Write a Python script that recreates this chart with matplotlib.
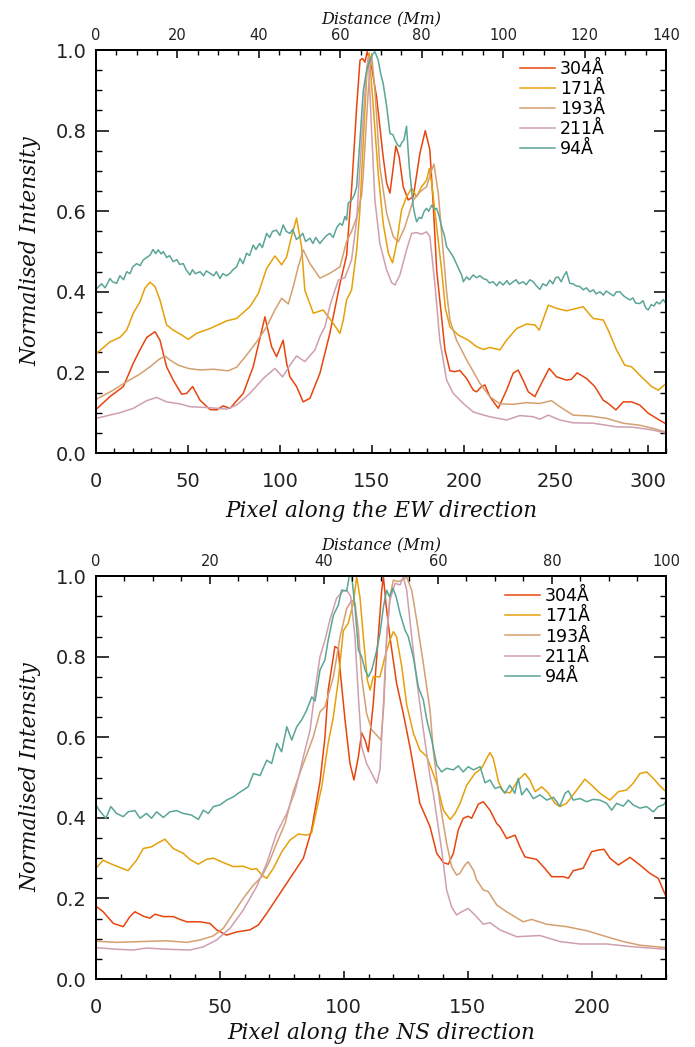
import matplotlib
matplotlib.use('Agg')
import matplotlib.pyplot as plt
from matplotlib.ticker import MultipleLocator

# ---------------- EW cut (top panel) ----------------
ew_x_304 = [0, 7.6, 14.9, 20.3, 23.9, 27.6, 32.1, 34.8, 38.4, 42, 46.6, 49.3, 52.6, 56.6, 62, 65.6,
            69.2, 72.9, 80.1, 85.5, 91.9, 95.5, 98.2, 101.8, 103.7, 105.5, 109.1, 112.7, 116.4, 121.8,
            127.2, 132.7, 136.3, 139, 141.8, 143.6, 145, 146.3, 147.5, 149.9, 152.6, 156.2, 158.1,
            159.9, 161.7, 163.1, 164.9, 167.1, 169.8, 172.6, 176.2, 179.1, 181.6, 183.5, 185.3, 187,
            189.8, 192.5, 195.2, 197.9, 201.6, 205.2, 207, 209.7, 211.5, 214.2, 218.8, 223.3, 226.9,
            229.6, 232.3, 235.1, 238.7, 242.3, 246.5, 250.5, 255.9, 258.6, 261.7, 266.8, 271.3, 275.9,
            278.6, 282.8, 286.8, 291.3, 295.8, 300.3, 304.9, 309.4]
ew_304 = [0.108, 0.14, 0.165, 0.223, 0.256, 0.287, 0.301, 0.28, 0.214, 0.181, 0.146, 0.148, 0.165,
          0.131, 0.108, 0.107, 0.117, 0.111, 0.148, 0.214, 0.338, 0.264, 0.239, 0.28, 0.223, 0.189,
          0.165, 0.127, 0.136, 0.198, 0.297, 0.42, 0.49, 0.653, 0.86, 0.975, 0.979, 0.97, 0.996,
          0.958, 0.884, 0.735, 0.67, 0.645, 0.71, 0.762, 0.735, 0.661, 0.628, 0.636, 0.744, 0.80,
          0.752, 0.611, 0.454, 0.38, 0.256, 0.204, 0.202, 0.205, 0.185, 0.156, 0.152, 0.165, 0.169,
          0.14, 0.111, 0.156, 0.198, 0.206, 0.181, 0.152, 0.14, 0.173, 0.21, 0.189, 0.181, 0.183,
          0.199, 0.185, 0.165, 0.131, 0.123, 0.107, 0.127, 0.127, 0.119, 0.099, 0.086, 0.074]

ew_x_171 = [0, 7.6, 13, 16.7, 20.3, 23.9, 26.6, 29.4, 32.1, 34.8, 38.4, 42, 46.6, 50.2, 54.7, 62,
            71.1, 76.5, 83.7, 88.3, 92.8, 97.3, 101, 103.7, 106.5, 109.1, 111.8, 113.6, 118.2, 123.6,
            129, 132.7, 134.5, 136.3, 139, 141.8, 143.5, 145.4, 147.5, 148.6, 150.8, 153.5, 156.2,
            159, 161.3, 163.5, 166.2, 168.9, 171.7, 174.4, 177.1, 179.8, 181.3, 182.6, 185.3, 188,
            190, 192.5, 197, 202.5, 207, 210.6, 214.2, 219.7, 223.3, 228.8, 234.2, 238.7, 241.1,
            246, 250.5, 255.9, 261.4, 265, 270.4, 275.9, 278.6, 283.1, 287.6, 291.3, 296.7, 302.2,
            305.8, 309.4]
ew_171 = [0.246, 0.276, 0.287, 0.305, 0.347, 0.375, 0.409, 0.424, 0.413, 0.38, 0.318, 0.305, 0.293,
          0.282, 0.297, 0.309, 0.328, 0.334, 0.363, 0.396, 0.458, 0.489, 0.467, 0.487, 0.54, 0.583,
          0.512, 0.404, 0.347, 0.355, 0.322, 0.297, 0.33, 0.38, 0.404, 0.504, 0.60, 0.777, 0.958,
          0.993, 0.86, 0.694, 0.57, 0.496, 0.472, 0.52, 0.603, 0.636, 0.657, 0.636, 0.661, 0.677,
          0.706, 0.669, 0.561, 0.454, 0.36, 0.313, 0.293, 0.28, 0.264, 0.257, 0.262, 0.256, 0.28,
          0.309, 0.32, 0.318, 0.305, 0.367, 0.359, 0.353, 0.359, 0.363, 0.334, 0.33, 0.305, 0.256,
          0.218, 0.214, 0.189, 0.165, 0.156, 0.17]

ew_x_193 = [0, 9.4, 16.7, 23.9, 29.4, 33.9, 37.5, 40.2, 44.7, 50.2, 56.6, 63.8, 71.9, 76.5, 81.9,
            87.4, 92.8, 97.3, 101, 104.6, 107.3, 110, 112.7, 116.4, 121.8, 127.2, 132.7, 136.3, 139,
            141.8, 144.5, 145.4, 148.1, 149.9, 151.7, 154.4, 158.1, 161.7, 164.4, 168, 172.6, 176.2,
            179.8, 182.6, 183.8, 186.2, 188.9, 190.7, 192.5, 196.1, 201.6, 208.8, 214.2, 219.7,
            226.9, 234.2, 241.4, 247.7, 252.3, 259.5, 268.6, 277.7, 286.8, 295.8, 303, 309.4]
ew_193 = [0.133, 0.156, 0.177, 0.196, 0.214, 0.231, 0.241, 0.231, 0.218, 0.21, 0.206, 0.208, 0.204,
          0.213, 0.243, 0.276, 0.313, 0.355, 0.384, 0.37, 0.413, 0.462, 0.504, 0.47, 0.434, 0.446,
          0.462, 0.525, 0.55, 0.585, 0.64, 0.694, 0.90, 0.99, 0.90, 0.71, 0.595, 0.537, 0.524, 0.561,
          0.628, 0.648, 0.661, 0.702, 0.717, 0.644, 0.496, 0.40, 0.33, 0.28, 0.231, 0.173, 0.14,
          0.122, 0.121, 0.125, 0.123, 0.13, 0.115, 0.094, 0.092, 0.086, 0.074, 0.069, 0.061, 0.053]

ew_x_211 = [0, 13, 20.3, 27.6, 33, 38.4, 45.7, 51.1, 60.2, 71.1, 76.5, 83.7, 91, 97.3, 101.5, 105.5,
            109.1, 113.6, 119.1, 121.8, 124.5, 127.5, 131.8, 135.4, 139, 141.8, 144.5, 146.8, 148.1,
            149.9, 151.7, 154.4, 158.1, 160.8, 162.6, 165.3, 168.9, 171.7, 174.4, 177.1, 179.8,
            181.6, 184.3, 187, 190.7, 194.3, 199.8, 205.2, 208.8, 214.2, 223.3, 230.6, 237.8, 241.4,
            246, 252.3, 259.5, 270.4, 283.1, 292.2, 303, 309.4]
ew_211 = [0.086, 0.1, 0.111, 0.13, 0.138, 0.127, 0.122, 0.115, 0.113, 0.109, 0.119, 0.148, 0.185,
          0.21, 0.189, 0.218, 0.241, 0.227, 0.256, 0.289, 0.313, 0.37, 0.429, 0.435, 0.479, 0.578,
          0.777, 0.926, 0.983, 0.80, 0.628, 0.52, 0.454, 0.423, 0.417, 0.442, 0.504, 0.545, 0.547,
          0.543, 0.549, 0.537, 0.421, 0.28, 0.181, 0.148, 0.123, 0.102, 0.097, 0.09, 0.082, 0.093,
          0.09, 0.084, 0.094, 0.082, 0.075, 0.074, 0.065, 0.064, 0.057, 0.05]

ew_x_94 = [0, 3, 5, 7.6, 9, 11.2, 13, 15, 16.7, 18.5, 20, 22.1, 24, 25.7, 27.5, 29.4, 31, 32.5, 33.9,
           35.5, 36.6, 38.5, 40, 42, 44, 45.5, 47.5, 49, 51.1, 52.5, 54, 56.6, 58.5, 60, 62, 64, 65.5,
           67.4, 69, 71, 72.9, 74.5, 76.5, 78.3, 80, 81.9, 83.5, 85.5, 87, 89, 90.5, 92.8, 94.5, 96,
           98.2, 100, 101.8, 103.5, 105.5, 107, 109, 110.9, 112.5, 114, 116.4, 118, 119.5, 121.8,
           123.5, 125.5, 127.2, 129, 131, 132.7, 134, 135.4, 136.3, 137.2, 139, 140.5, 141.8, 143.6,
           145.4, 147.2, 149, 150.5, 151.7, 153.5, 154.8, 156.2, 158.1, 159.9, 161.5, 162.6, 164,
           165.3, 166.5, 167.5, 168.9, 170.4, 172.6, 173.5, 174.4, 175.8, 177.1, 178.5, 179.8, 181,
           182.6, 184, 185.3, 186.5, 188, 189.5, 190.7, 192.5, 194.3, 196, 197.5, 199, 199.8, 201.6,
           203, 205.2, 207, 208.8, 210.6, 212.5, 214, 216, 218, 219.5, 221.5, 223.5, 225, 226.9,
           228.5, 230, 232.3, 234, 236, 237.8, 239.5, 241.4, 243, 245, 246.8, 248.5, 250, 251.4, 253,
           254.5, 255.9, 257.7, 259.5, 261, 263.2, 265, 266.8, 268.6, 270.5, 272, 274.1, 276, 277.5,
           279.5, 281.5, 283, 285, 287, 288.5, 290.4, 292, 293.5, 295.8, 297.5, 299, 300.3, 302,
           303.5, 304.9, 306.5, 308.5, 310]
ew_94 = [0.406, 0.42, 0.41, 0.433, 0.425, 0.421, 0.44, 0.43, 0.45, 0.445, 0.462, 0.47, 0.465, 0.479,
         0.485, 0.491, 0.505, 0.495, 0.504, 0.494, 0.5, 0.485, 0.49, 0.475, 0.48, 0.468, 0.47, 0.455,
         0.442, 0.455, 0.445, 0.45, 0.44, 0.452, 0.446, 0.44, 0.45, 0.433, 0.445, 0.44, 0.446, 0.455,
         0.462, 0.483, 0.47, 0.496, 0.49, 0.516, 0.505, 0.52, 0.51, 0.545, 0.535, 0.55, 0.553, 0.54,
         0.566, 0.55, 0.545, 0.555, 0.53, 0.537, 0.545, 0.525, 0.533, 0.52, 0.535, 0.52, 0.53, 0.54,
         0.545, 0.535, 0.56, 0.57, 0.565, 0.587, 0.578, 0.62, 0.628, 0.64, 0.661, 0.777, 0.90, 0.95,
         0.975, 0.99, 0.996, 0.975, 0.942, 0.917, 0.86, 0.793, 0.79, 0.777, 0.765, 0.76, 0.772,
         0.777, 0.811, 0.71, 0.611, 0.59, 0.574, 0.585, 0.582, 0.6, 0.607, 0.6, 0.615, 0.605, 0.607,
         0.59, 0.561, 0.54, 0.512, 0.5, 0.487, 0.47, 0.455, 0.44, 0.425, 0.437, 0.43, 0.442, 0.435,
         0.44, 0.433, 0.43, 0.422, 0.425, 0.415, 0.425, 0.417, 0.428, 0.418, 0.425, 0.43, 0.42,
         0.425, 0.418, 0.43, 0.425, 0.415, 0.406, 0.42, 0.415, 0.429, 0.42, 0.435, 0.437, 0.425,
         0.44, 0.45, 0.421, 0.42, 0.415, 0.413, 0.405, 0.41, 0.4, 0.405, 0.395, 0.4, 0.392, 0.402,
         0.396, 0.39, 0.4, 0.4, 0.39, 0.385, 0.38, 0.385, 0.372, 0.371, 0.378, 0.36, 0.355, 0.368,
         0.365, 0.375, 0.37, 0.381, 0.371]

# ---------------- NS cut (bottom panel) ----------------
ns_x_304 = [0, 2.9, 7, 11, 13.7, 15.7, 19.1, 21.8, 23.8, 27.2, 31.2, 33.9, 36.6, 42, 46, 48.7, 52.7,
            56.8, 62.1, 65.5, 68.9, 74.3, 79.6, 83.7, 87, 90.4, 92.4, 93.7, 95.8, 96.4, 97.8, 98.5,
            100.5, 102.5, 104.1, 105.9, 107.2, 108.6, 109.9, 111.9, 113.9, 115.3, 116, 117, 118.6,
            121.3, 124, 126.7, 130.7, 134.8, 137.5, 140.2, 142.2, 144.2, 146.2, 148.2, 150.2, 151.6,
            154.3, 156.3, 159, 161.7, 163, 165.7, 169.1, 171.1, 173.1, 177.8, 180.5, 183.9, 188.6,
            190.6, 192.6, 196.6, 200, 202.7, 205, 207.4, 210.8, 215.5, 219.5, 223.6, 226.9, 230]
ns_304 = [0.181, 0.167, 0.138, 0.13, 0.155, 0.167, 0.156, 0.151, 0.161, 0.155, 0.155, 0.148, 0.142,
          0.142, 0.138, 0.122, 0.109, 0.117, 0.122, 0.134, 0.163, 0.213, 0.262, 0.30, 0.37, 0.49,
          0.60, 0.717, 0.80, 0.825, 0.82, 0.767, 0.643, 0.535, 0.494, 0.552, 0.611, 0.593, 0.564,
          0.684, 0.849, 0.965, 0.998, 0.932, 0.849, 0.734, 0.659, 0.576, 0.436, 0.378, 0.312, 0.289,
          0.285, 0.312, 0.37, 0.399, 0.404, 0.399, 0.434, 0.44, 0.419, 0.386, 0.378, 0.349, 0.357,
          0.328, 0.303, 0.297, 0.279, 0.254, 0.254, 0.25, 0.269, 0.275, 0.316, 0.32, 0.322, 0.30,
          0.283, 0.302, 0.283, 0.262, 0.25, 0.205]

ns_x_171 = [0, 2.9, 5.6, 9.6, 12.9, 16.4, 19.1, 22.4, 25.1, 27.8, 31.2, 35.2, 37.9, 41.3, 44.6,
            47.4, 51.4, 55.4, 59.4, 62.8, 64.8, 66.9, 68.9, 71.6, 75, 78.3, 81.7, 85, 87, 89, 91.1,
            93.7, 95.8, 97.8, 99.8, 101.8, 103.8, 105.2, 106.5, 107.9, 109.5, 110.6, 111.9, 114.6,
            116.6, 118.6, 120, 121.3, 123.4, 125.4, 128.1, 130.7, 133.5, 137.5, 140.2, 142.9, 144.9,
            146.9, 149.6, 152.9, 155.6, 157.7, 159, 160.3, 162.4, 164.4, 167.1, 170.4, 173.1, 175.1,
            177.2, 179.9, 182.6, 185.2, 187.2, 189.9, 194, 197.3, 200, 203.4, 207.4, 210.8, 214.1,
            216.8, 219.5, 222.2, 224.9, 227.6, 230]
ns_171 = [0.275, 0.295, 0.287, 0.277, 0.269, 0.295, 0.324, 0.328, 0.338, 0.347, 0.324, 0.312, 0.297,
          0.285, 0.297, 0.30, 0.289, 0.279, 0.28, 0.272, 0.274, 0.258, 0.25, 0.275, 0.316, 0.345,
          0.36, 0.357, 0.362, 0.419, 0.477, 0.585, 0.651, 0.742, 0.864, 0.883, 0.932, 0.998, 0.949,
          0.849, 0.742, 0.717, 0.75, 0.75, 0.80, 0.841, 0.862, 0.849, 0.775, 0.68, 0.61, 0.568,
          0.552, 0.486, 0.419, 0.396, 0.411, 0.436, 0.481, 0.51, 0.523, 0.548, 0.562, 0.548, 0.49,
          0.465, 0.462, 0.494, 0.51, 0.494, 0.465, 0.477, 0.461, 0.436, 0.428, 0.436, 0.469, 0.496,
          0.481, 0.461, 0.444, 0.465, 0.469, 0.486, 0.51, 0.514, 0.498, 0.479, 0.465]

ns_x_193 = [0, 8.3, 17.8, 28.5, 36.6, 42, 47.3, 51.4, 55.4, 59.4, 63.5, 66.9, 70.2, 72.9, 76.3, 79.6,
            83.7, 87.7, 90.4, 92.4, 95.8, 98.5, 101.2, 103.2, 104.5, 105.9, 107.2, 109.2, 111.3,
            113.3, 115, 116.2, 117.3, 118.6, 120, 122, 123.4, 125.4, 127.4, 129.4, 132.1, 134.8,
            136.1, 138.8, 141.5, 143.5, 145.5, 146.8, 148.9, 150.2, 152.3, 153.6, 156.3, 158.3, 161.7,
            165.7, 172.4, 175.8, 181.9, 189.9, 198, 206.1, 212.8, 219.5, 230]
ns_193 = [0.094, 0.091, 0.093, 0.095, 0.091, 0.097, 0.107, 0.126, 0.163, 0.20, 0.233, 0.254, 0.295,
          0.337, 0.386, 0.465, 0.535, 0.601, 0.663, 0.676, 0.75, 0.849, 0.92, 0.94, 0.932, 0.866,
          0.75, 0.659, 0.618, 0.605, 0.593, 0.684, 0.849, 0.949, 0.99, 0.986, 0.99, 0.997, 0.965,
          0.891, 0.783, 0.667, 0.568, 0.436, 0.337, 0.279, 0.258, 0.262, 0.283, 0.291, 0.27, 0.246,
          0.221, 0.217, 0.184, 0.167, 0.142, 0.148, 0.136, 0.13, 0.12, 0.105, 0.093, 0.084, 0.078]

ns_x_211 = [0, 8.3, 15, 20.4, 28.5, 37.9, 43.3, 48.7, 54.1, 59.4, 64.8, 68.9, 72.9, 77, 80.3, 83.7,
            86.4, 88.4, 90.4, 92.4, 94.4, 97.1, 99.8, 101.2, 102.8, 104.5, 105.9, 107.2, 109.2,
            111.3, 113.3, 114.6, 116, 117.3, 118.6, 120.7, 122.7, 124, 125.4, 127.4, 129.4, 132.1,
            134.8, 136.1, 139.5, 141.5, 143.5, 145.5, 147.6, 150.2, 152.9, 156.3, 159, 163, 169.8,
            179.2, 187.2, 195.3, 206.1, 216.8, 230]
ns_211 = [0.078, 0.074, 0.072, 0.077, 0.074, 0.072, 0.08, 0.097, 0.126, 0.171, 0.229, 0.287, 0.362,
          0.411, 0.465, 0.552, 0.618, 0.717, 0.80, 0.841, 0.891, 0.945, 0.963, 0.965, 0.949, 0.849,
          0.70, 0.576, 0.535, 0.51, 0.486, 0.519, 0.684, 0.849, 0.94, 0.982, 0.978, 0.998, 0.965,
          0.849, 0.742, 0.618, 0.502, 0.461, 0.32, 0.221, 0.179, 0.159, 0.167, 0.175, 0.159, 0.136,
          0.14, 0.122, 0.105, 0.108, 0.093, 0.087, 0.087, 0.08, 0.074]

ns_x_94 = [0, 1.3, 4, 6, 8.3, 11, 13, 15.7, 17.8, 20.4, 22.4, 24.5, 27.2, 29.8, 32.5, 35.2, 38.5,
           41.3, 43.3, 45.3, 47.4, 50, 52.7, 55.4, 57.4, 59.4, 61.4, 63.5, 66.2, 68.9, 70.9, 73, 74.9,
           77, 79, 81, 83, 85, 87.1, 88.4, 90.4, 92.4, 93.7, 95.8, 97.8, 99.1, 101.2, 102.2, 103.2,
           104.5, 105.9, 107.2, 108.6, 109.9, 111.3, 113.3, 114.6, 116, 117.3, 118.4, 119.8, 121.1,
           122.7, 124.7, 126, 128, 130.1, 132.1, 133.5, 135.5, 137.5, 139.5, 141.5, 144.2, 146.2,
           148.2, 150.2, 152.3, 155, 157, 159, 161, 163, 165, 167, 169, 170.4, 171.8, 173.8, 176.5,
           179.2, 181.9, 184.6, 187.2, 189.3, 190.6, 192.6, 195.3, 198, 200.7, 203.4, 206.1, 208.1,
           210.1, 212.8, 214.8, 216.8, 219.5, 222.2, 224.9, 226.9, 228.9, 230]
ns_94 = [0.432, 0.419, 0.399, 0.428, 0.411, 0.403, 0.415, 0.418, 0.399, 0.411, 0.399, 0.415, 0.401,
         0.415, 0.418, 0.411, 0.407, 0.396, 0.419, 0.411, 0.428, 0.432, 0.444, 0.452, 0.461, 0.469,
         0.477, 0.51, 0.505, 0.543, 0.535, 0.585, 0.564, 0.626, 0.593, 0.626, 0.643, 0.667, 0.70,
         0.69, 0.767, 0.792, 0.841, 0.903, 0.928, 0.965, 0.963, 1.0, 1.0, 0.924, 0.816, 0.80, 0.767,
         0.75, 0.767, 0.816, 0.858, 0.924, 0.965, 0.949, 0.97, 0.949, 0.907, 0.866, 0.85, 0.80,
         0.725, 0.692, 0.643, 0.593, 0.531, 0.514, 0.523, 0.519, 0.529, 0.514, 0.527, 0.519, 0.527,
         0.487, 0.494, 0.473, 0.477, 0.461, 0.481, 0.461, 0.498, 0.457, 0.473, 0.448, 0.457, 0.444,
         0.451, 0.429, 0.461, 0.467, 0.444, 0.448, 0.44, 0.446, 0.444, 0.436, 0.419, 0.436, 0.429,
         0.444, 0.432, 0.424, 0.428, 0.415, 0.428, 0.432, 0.44]

labels = ['304Å', '171Å', '193Å', '211Å', '94Å']
colors = ['#e8450e', '#e6a00a', '#d4a070', '#cf9fae', '#5aa597']

plt.rcParams['font.family'] = 'DejaVu Sans'
tick_col = '#222222'
label_font = dict(family='DejaVu Serif', style='italic', color='#111111')

fig = plt.figure(figsize=(6.95, 10.47), dpi=100)
ax1 = fig.add_axes([0.1381, 0.5673, 0.8201, 0.3849])
ax2 = fig.add_axes([0.1381, 0.0649, 0.8201, 0.3849])

panels = [
    (ax1, [(ew_x_304, ew_304), (ew_x_171, ew_171), (ew_x_193, ew_193), (ew_x_211, ew_211), (ew_x_94, ew_94)],
     310, 140, 'Pixel along the EW direction', (0.744, 0.975), 6),
    (ax2, [(ns_x_304, ns_304), (ns_x_171, ns_171), (ns_x_193, ns_193), (ns_x_211, ns_211), (ns_x_94, ns_94)],
     230, 100, 'Pixel along the NS direction', (0.7175, 0.972), 3),
]

for ax, series, xmax, dmax, xlab, leg_pos, xpad in panels:
    for (xs, ys), lab, col in zip(series, labels, colors):
        ax.plot(xs, ys, color=col, linewidth=1.1, label=lab)

    ax.set_xlim(0, xmax)
    ax.set_ylim(0, 1.0)
    ax.xaxis.set_major_locator(MultipleLocator(50))
    ax.xaxis.set_minor_locator(MultipleLocator(10))
    ax.yaxis.set_major_locator(MultipleLocator(0.2))
    ax.yaxis.set_minor_locator(MultipleLocator(0.05))
    ax.yaxis.set_major_formatter(lambda v, p: f'{v:.1f}')
    ax.tick_params(axis='y', which='major', direction='in', length=9, width=1.1, left=True, right=True,
                   labelsize=14, labelcolor=tick_col, pad=7)
    ax.tick_params(axis='y', which='minor', direction='in', length=4, width=1.0, left=True, right=True)
    ax.tick_params(axis='x', which='major', direction='in', length=5.5, width=1.1, top=False,
                   labelsize=14, labelcolor=tick_col, pad=14)
    ax.tick_params(axis='x', which='minor', direction='in', length=3.5, width=1.0, top=False)
    for sp in ax.spines.values():
        sp.set_linewidth(1.4)

    # IDL style: end labels kept inside the axis range
    fig.canvas.draw()
    ylabs = ax.get_yticklabels()
    ylabs[0].set_va('bottom')
    ylabs[-1].set_va('top')

    ax.set_xlabel(xlab, fontsize=15.5, labelpad=xpad, **label_font)
    ax.set_ylabel('Normalised Intensity', fontsize=15.5, labelpad=10, **label_font)

    # distance scale on the top axis
    top = ax.twiny()
    top.set_xlim(0, dmax)
    top.xaxis.set_major_locator(MultipleLocator(20))
    top.xaxis.set_minor_locator(MultipleLocator(5))
    top.tick_params(axis='x', which='major', direction='in', length=6, width=1.1,
                    labelsize=10.5, labelcolor=tick_col, pad=5)
    top.tick_params(axis='x', which='minor', direction='in', length=3.5, width=1.0)
    top.set_xlabel('Distance (Mm)', fontsize=11.5, labelpad=3, **label_font)
    for sp in top.spines.values():
        sp.set_linewidth(1.4)

    ax.legend(loc='upper left', bbox_to_anchor=leg_pos, frameon=False, fontsize=12.5,
              handlelength=2.0, handletextpad=0.3, labelspacing=0.12, borderaxespad=0, borderpad=0)

fig.savefig('out.png', dpi=100)
